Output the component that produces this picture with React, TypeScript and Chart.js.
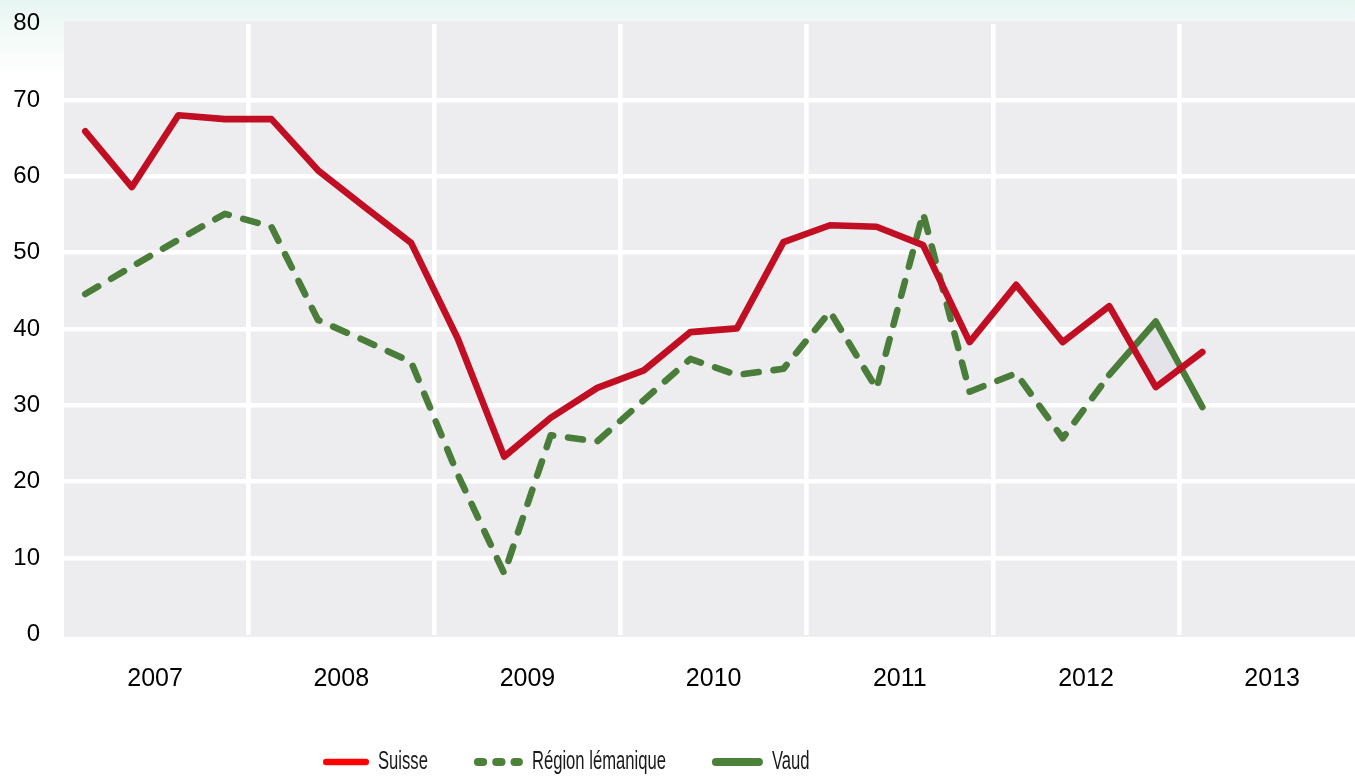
import React, { useEffect, useRef } from 'react';
import { Chart, registerables } from 'chart.js';

Chart.register(...registerables);

// Quarterly observations, 2007 T1 .. 2013 T1
const quarters = [
  '2007 T1', '2007 T2', '2007 T3', '2007 T4',
  '2008 T1', '2008 T2', '2008 T3', '2008 T4',
  '2009 T1', '2009 T2', '2009 T3', '2009 T4',
  '2010 T1', '2010 T2', '2010 T3', '2010 T4',
  '2011 T1', '2011 T2', '2011 T3', '2011 T4',
  '2012 T1', '2012 T2', '2012 T3', '2012 T4',
  '2013 T1',
];

const years = ['2007', '2008', '2009', '2010', '2011', '2012', '2013'];

const suisse = [
  65.9, 58.6, 68.0, 67.5,
  67.5, 60.8, 56.0, 51.3,
  38.8, 23.3, 28.4, 32.3,
  34.6, 39.6, 40.1, 51.4,
  53.6, 53.4, 51.0, 38.3,
  45.8, 38.3, 43.0, 32.4,
  37.0,
];

const regionLemanique = [
  44.6, 48.2, 51.7, 55.1,
  53.4, 41.2, 38.5, 35.7,
  21.0, 8.0, 26.1, 25.3,
  30.7, 36.1, 34.0, 34.8,
  42.3, 32.2, 55.2, 31.8,
  34.2, 25.7, 34.0, null,
  null,
];

const vaud = [
  null, null, null, null,
  null, null, null, null,
  null, null, null, null,
  null, null, null, null,
  null, null, null, null,
  null, null, 34.0, 41.0,
  29.8,
];

const yTicks = [0, 10, 20, 30, 40, 50, 60, 70, 80];

const seriesNames = ['Suisse', 'Région lémanique', 'Vaud'];

const QUARTERS_PER_YEAR = 4;

function toPoints(values: (number | null)[]) {
  const pts: { x: number; y: number }[] = [];
  values.forEach((v, i) => {
    if (v !== null && v !== undefined) pts.push({ x: i + 0.5, y: v });
  });
  return pts;
}

const plotBackground = {
  id: 'plotBackground',
  beforeDraw(chart: any) {
    const { ctx, chartArea: a, width } = chart;
    ctx.save();
    ctx.fillStyle = '#EDEDF0';
    ctx.fillRect(a.left + 2, a.top - 2.3, width - a.left - 2, a.bottom - a.top + 4.6);
    ctx.restore();
  },
};

const lineLegend = {
  id: 'lineLegend',
  afterDraw(chart: any, _args: any, opts: any) {
    const { ctx } = chart;
    ctx.save();
    ctx.font = `${opts.fontSize}px ${opts.fontFamily}`;
    ctx.textBaseline = 'middle';
    ctx.textAlign = 'left';
    let x = opts.x;
    const y = opts.y;
    opts.items.forEach((item: any) => {
      const cap = item.width / 2;
      ctx.beginPath();
      ctx.setLineDash(item.dash || []);
      ctx.lineCap = 'round';
      ctx.lineWidth = item.width;
      ctx.strokeStyle = item.color;
      ctx.moveTo(x + cap, y);
      ctx.lineTo(x + item.length - cap, y);
      ctx.stroke();
      ctx.setLineDash([]);
      const tx = x + item.length + opts.gap;
      const tw = ctx.measureText(item.label).width * opts.scaleX;
      ctx.save();
      ctx.translate(tx, y);
      ctx.scale(opts.scaleX, 1);
      ctx.fillStyle = opts.color;
      ctx.fillText(item.label, 0, 0);
      ctx.restore();
      x = tx + tw + opts.spacing;
    });
    ctx.restore();
  },
};

export default function App() {
  const canvasRef = useRef<HTMLCanvasElement | null>(null);

  useEffect(() => {
    document.body.style.margin = '0';
    const canvas = canvasRef.current;
    if (!canvas) return;

    const redLine = '#C10E23';
    const green = '#4A7D3A';
    const font = "'Liberation Sans', Arial, sans-serif";

    const chart = new Chart(canvas, {
      type: 'line',
      data: {
        datasets: [
          {
            label: seriesNames[0],
            data: toPoints(suisse),
            borderColor: redLine,
            borderWidth: 6.6,
            borderCapStyle: 'round',
            borderJoinStyle: 'round',
            pointRadius: 0,
            fill: false,
            tension: 0,
          },
          {
            label: seriesNames[1],
            data: toPoints(regionLemanique),
            borderColor: green,
            borderWidth: 6.6,
            borderDash: [15, 15],
            borderCapStyle: 'round',
            borderJoinStyle: 'round',
            pointRadius: 0,
            fill: false,
            tension: 0,
          },
          {
            label: seriesNames[2],
            data: toPoints(vaud),
            borderColor: green,
            borderWidth: 6.6,
            borderCapStyle: 'round',
            borderJoinStyle: 'round',
            pointRadius: 0,
            fill: { target: 0, above: '#E3E3E9', below: 'rgba(0,0,0,0)' },
            tension: 0,
          },
        ],
      } as any,
      options: {
        animation: false,
        responsive: true,
        maintainAspectRatio: false,
        layout: { padding: { top: 23.7, left: 0, right: 0, bottom: 0 } },
        plugins: {
          legend: { display: false },
          tooltip: { enabled: false },
          lineLegend: {
            x: 323,
            y: 762,
            fontSize: 25,
            fontFamily: font,
            scaleX: 0.665,
            gap: 9,
            spacing: 46,
            color: '#1a1a1a',
            items: [
              { label: seriesNames[0], color: '#FF0000', width: 6.5, length: 46 },
              { label: seriesNames[1], color: '#4B8139', width: 8, length: 49, dash: [5.3, 13] },
              { label: seriesNames[2], color: '#4B8139', width: 8, length: 51 },
            ],
          },
        } as any,
        scales: {
          x: {
            type: 'linear',
            min: 0,
            max: 27.78,
            afterBuildTicks: (axis: any) => {
              axis.ticks = years.map((_, k) => ({ value: k * QUARTERS_PER_YEAR }));
            },
            afterFit: (scale: any) => {
              scale.height = 142.5;
            },
            ticks: {
              autoSkip: false,
              maxRotation: 0,
              minRotation: 0,
              includeBounds: false,
              padding: 30,
              labelOffset: 93.1,
              color: '#000',
              font: { family: font, size: 25 },
              callback: (_v: any, i: number) => years[i],
            },
            grid: {
              drawTicks: false,
              lineWidth: 4.6,
              color: (c: any) => (c.tick && c.tick.value === 0 ? 'rgba(0,0,0,0)' : '#FFFFFF'),
            },
            border: { display: false },
          },
          y: {
            type: 'linear',
            min: 0,
            max: 80,
            afterBuildTicks: (axis: any) => {
              axis.ticks = yTicks.map((v) => ({ value: v }));
            },
            afterFit: (scale: any) => {
              scale.width = 62;
              scale.paddingTop = 0;
              scale.paddingBottom = 0;
            },
            ticks: {
              padding: 22,
              color: '#000',
              font: { family: font, size: 24 },
            },
            grid: {
              drawTicks: false,
              lineWidth: 4.6,
              color: (c: any) =>
                c.tick && (c.tick.value === 0 || c.tick.value === 80) ? 'rgba(0,0,0,0)' : '#FFFFFF',
            },
            border: { display: false },
          },
        },
      },
      plugins: [plotBackground, lineLegend],
    });

    return () => {
      chart.destroy();
    };
  }, []);

  return (
    <div
      style={{
        position: 'relative',
        width: 1355,
        height: 777,
        background: 'linear-gradient(to bottom, #E6F5F1 0px, #F2FAF8 30px, #FFFFFF 80px)',
      }}
    >
      <canvas ref={canvasRef} aria-label={quarters.join(', ')} />
    </div>
  );
}
